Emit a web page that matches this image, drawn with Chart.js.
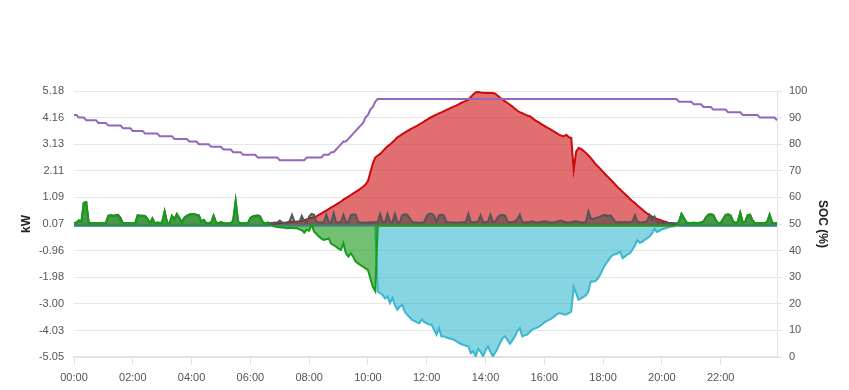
<!DOCTYPE html>
<html>
<head>
<meta charset="utf-8">
<script src="https://cdn.jsdelivr.net/npm/chart.js@4.4.0/dist/chart.umd.min.js"></script>
<style>
    html, body { margin: 0; padding: 0; background: #fff; }
    canvas { display: block; }
</style>
</head>
<body>
<canvas id="energyChart" width="849" height="390"></canvas>
<script>
// 5-minute samples over one day (288 points), one row = one hour
const times = [];
for (let m = 0; m < 24 * 60; m += 5) {
    times.push(String(Math.floor(m / 60)).padStart(2, '0') + ':' + String(m % 60).padStart(2, '0'));
}

// left axis tick labels (kW) and right axis range (SOC %)
const kwTicks = [-5.05, -4.03, -3.00, -1.98, -0.96, 0.07, 1.09, 2.11, 3.13, 4.16, 5.18];

// PV production (kW)
const pvKw = [
    0,0,0,0,0,0,0,0,0,0,0,0,
    0,0,0,0,0,0,0,0,0,0,0,0,
    0,0,0,0,0,0,0,0,0,0,0,0,
    0,0,0,0,0,0,0,0,0,0,0,0,
    0,0,0,0,0,0,0,0,0,0,0,0,
    0,0,0,0,0,0,0,0,0,0,0,0,
    0,0,0,0,0,0,0,0,0.02,0.04,0.06,0.08,
    0.09,0.10,0.11,0.12,0.13,0.14,0.15,0.16,0.17,0.19,0.21,0.24,
    0.27,0.30,0.33,0.36,0.42,0.47,0.53,0.58,0.64,0.70,0.75,0.81,
    0.87,0.93,1.00,1.06,1.12,1.18,1.24,1.30,1.36,1.43,1.50,1.58,
    1.72,2.05,2.40,2.62,2.70,2.76,2.86,2.96,3.05,3.12,3.21,3.30,
    3.40,3.45,3.52,3.58,3.64,3.69,3.74,3.79,3.84,3.90,3.95,4.01,
    4.07,4.13,4.18,4.23,4.27,4.32,4.36,4.40,4.45,4.49,4.54,4.58,
    4.62,4.67,4.72,4.76,4.80,4.85,4.95,5.05,5.13,5.14,5.12,5.11,
    5.10,5.11,5.10,5.10,5.08,5.00,4.92,4.85,4.78,4.72,4.65,4.58,
    4.50,4.42,4.37,4.33,4.28,4.24,4.21,4.15,4.07,4.01,3.96,3.90,
    3.84,3.78,3.73,3.68,3.62,3.56,3.50,3.46,3.44,3.50,3.40,3.38,
    2.15,2.85,2.99,2.95,2.88,2.80,2.70,2.60,2.48,2.36,2.27,2.17,
    2.07,1.97,1.87,1.78,1.68,1.58,1.48,1.39,1.30,1.21,1.12,1.03,
    0.94,0.87,0.78,0.70,0.62,0.54,0.47,0.41,0.35,0.30,0.26,0.23,
    0.19,0.16,0.13,0.10,0.08,0.05,0.03,0.01,0,0,0,0,
    0,0,0,0,0,0,0,0,0,0,0,0,
    0,0,0,0,0,0,0,0,0,0,0,0,
    0,0,0,0,0,0,0,0,0,0,0,0
];

// house load (kW)
const loadKw = [
    0.09,0.12,0.20,0.15,0.88,0.90,0.12,0.09,0.10,0.09,0.09,0.09,
    0.09,0.10,0.38,0.40,0.38,0.40,0.42,0.30,0.09,0.09,0.09,0.09,
    0.09,0.10,0.40,0.38,0.38,0.37,0.25,0.09,0.28,0.09,0.12,0.10,
    0.12,0.55,0.12,0.09,0.38,0.25,0.45,0.30,0.12,0.30,0.38,0.42,
    0.45,0.45,0.42,0.40,0.15,0.22,0.10,0.10,0.12,0.38,0.12,0.09,
    0.14,0.10,0.08,0.09,0.09,0.20,0.95,0.15,0.09,0.09,0.09,0.10,
    0.30,0.36,0.38,0.40,0.36,0.15,0.08,0.12,0.10,0.10,0.12,0.11,
    0.20,0.12,0.10,0.11,0.18,0.42,0.15,0.12,0.14,0.38,0.16,0.12,
    0.35,0.45,0.42,0.15,0.12,0.13,0.12,0.42,0.14,0.12,0.48,0.13,
    0.12,0.15,0.42,0.14,0.12,0.40,0.44,0.42,0.15,0.12,0.11,0.12,
    0.12,0.13,0.12,0.14,0.12,0.45,0.14,0.13,0.45,0.14,0.13,0.45,
    0.14,0.13,0.40,0.44,0.42,0.30,0.14,0.12,0.12,0.11,0.12,0.14,
    0.38,0.46,0.46,0.38,0.14,0.40,0.42,0.40,0.15,0.13,0.12,0.12,
    0.11,0.12,0.12,0.13,0.14,0.45,0.14,0.13,0.14,0.16,0.40,0.13,
    0.14,0.15,0.42,0.14,0.16,0.32,0.40,0.42,0.38,0.15,0.13,0.14,
    0.16,0.25,0.42,0.14,0.12,0.13,0.14,0.18,0.13,0.12,0.13,0.15,
    0.17,0.16,0.13,0.12,0.13,0.15,0.18,0.20,0.15,0.13,0.12,0.13,
    0.16,0.18,0.14,0.13,0.12,0.14,0.55,0.28,0.25,0.30,0.32,0.36,
    0.40,0.42,0.36,0.40,0.28,0.14,0.13,0.14,0.13,0.14,0.13,0.14,
    0.16,0.40,0.15,0.13,0.12,0.14,0.18,0.40,0.20,0.35,0.15,0.12,
    0.12,0.11,0.10,0.10,0.10,0.09,0.09,0.15,0.45,0.30,0.12,0.10,
    0.10,0.11,0.10,0.10,0.12,0.16,0.32,0.42,0.44,0.42,0.22,0.10,
    0.10,0.26,0.42,0.44,0.40,0.18,0.10,0.15,0.50,0.12,0.15,0.40,
    0.42,0.20,0.10,0.09,0.10,0.09,0.10,0.15,0.42,0.12,0.09,0.10
];

// battery power (kW, + discharge / - charge)
const batteryKw = [
    0.09,0.12,0.20,0.15,0.88,0.90,0.12,0.09,0.10,0.09,0.09,0.09,
    0.09,0.10,0.38,0.40,0.38,0.38,0.38,0.20,0.09,0.09,0.09,0.09,
    0.09,0.10,0.40,0.38,0.38,0.37,0.25,0.09,0.28,0.09,0.12,0.10,
    0.12,0.55,0.12,0.09,0.38,0.25,0.45,0.30,0.12,0.30,0.38,0.42,
    0.45,0.45,0.40,0.38,0.15,0.22,0.10,0.10,0.12,0.38,0.12,0.09,
    0.14,0.10,0.08,0.09,0.09,0.20,0.95,0.15,0.09,0.09,0.09,0.10,
    0.30,0.36,0.36,0.36,0.34,0.15,0.08,0.12,0.05,0.00,-0.03,-0.05,
    -0.06,-0.07,-0.08,-0.10,-0.08,-0.09,-0.10,-0.09,-0.14,-0.17,-0.27,-0.15,
    -0.20,0.05,-0.23,-0.32,-0.42,-0.50,-0.55,-0.52,-0.49,-0.70,-0.75,-0.81,
    -0.88,-0.93,-0.67,-1.06,-1.19,-1.06,-1.20,-1.38,-1.45,-1.52,-1.57,-1.64,
    -1.70,-2.03,-2.35,-2.52,0,0,0,0,0,0,0,0,
    0,0,0,0,0,0,0,0,0,0,0,0,
    0,0,0,0,0,0,0,0,0,0,0,0,
    0,0,0,0,0,0,0,0,0,0,0,0,
    0,0,0,0,0,0,0,0,0,0,0,0,
    0,0,0,0,0,0,0,0,0,0,0,0,
    0,0,0,0,0,0,0,0,0,0,0,0,
    0,0,0,0,0,0,0,0,0,0,0,0,
    0,0,0,0,0,0,0,0,0,0,0,0,
    0,0,0,0,0,0,0,0,0,0,0,0,
    0,0,0,0,0,0,0.02,0.15,0.45,0.30,0.12,0.10,
    0.10,0.11,0.10,0.10,0.12,0.16,0.32,0.42,0.44,0.40,0.20,0.10,
    0.10,0.26,0.40,0.44,0.40,0.18,0.10,0.15,0.50,0.12,0.15,0.40,
    0.42,0.20,0.10,0.09,0.10,0.09,0.10,0.15,0.42,0.12,0.09,0.10
];

// grid power (kW, - export)
const gridKw = [
    0,0,0,0,0,0,0,0,0,0,0,0,
    0,0,0,0,0,0,0,0,0,0,0,0,
    0,0,0,0,0,0,0,0,0,0,0,0,
    0,0,0,0,0,0,0,0,0,0,0,0,
    0,0,0,0,0,0,0,0,0,0,0,0,
    0,0,0,0,0,0,0,0,0,0,0,0,
    0,0,0,0,0,0,0,0,0,0,0,0,
    0,0,0,0,0,0,0,0,0,0,0,0,
    0,0,0,0,0,0,0,0,0,0,0,0,
    0,0,0,0,0,0,0,0,0,0,0,0,
    0,0,0,0,-2.53,-2.60,-2.66,-2.80,-2.72,-2.98,-2.78,-3.05,
    -3.23,-3.12,-3.04,-3.30,-3.42,-3.52,-3.62,-3.66,-3.72,-3.75,-3.60,-3.70,
    -3.76,-3.80,-3.81,-4.00,-4.19,-3.94,-4.26,-4.25,-4.30,-4.33,-4.36,-4.38,
    -4.44,-4.50,-4.55,-4.58,-4.62,-4.64,-4.90,-4.83,-5.02,-4.74,-4.85,-5.02,
    -4.80,-4.64,-4.85,-5.02,-4.88,-4.71,-4.50,-4.32,-4.26,-4.40,-4.54,-4.40,
    -4.26,-4.05,-3.94,-4.26,-4.22,-4.19,-4.10,-4.00,-3.96,-3.92,-3.87,-3.80,
    -3.72,-3.66,-3.62,-3.57,-3.50,-3.42,-3.36,-3.38,-3.42,-3.42,-3.36,-3.30,
    -2.35,-2.60,-2.85,-2.80,-2.74,-2.68,-2.53,-2.15,-2.15,-2.12,-2.02,-1.85,
    -1.65,-1.48,-1.35,-1.22,-1.12,-1.10,-1.06,-1.00,-1.25,-1.18,-1.10,-1.06,
    -0.92,-0.76,-0.55,-0.66,-0.62,-0.55,-0.48,-0.42,-0.30,-0.12,-0.24,-0.20,
    -0.14,-0.12,-0.08,-0.05,-0.03,-0.02,0,0,0,0,0,0,
    0,0,0,0,0,0,0,0,0,0,0,0,
    0,0,0,0,0,0,0,0,0,0,0,0,
    0,0,0,0,0,0,0,0,0,0,0,0
];

// battery state of charge (%)
const socPct = [
    91,91,90,90,90,89,89,89,89,89,88,88,
    88,88,87,87,87,87,87,87,86,86,86,86,
    85,85,85,85,85,84,84,84,84,84,84,83,
    83,83,83,83,83,82,82,82,82,82,82,81,
    81,81,81,80,80,80,80,80,79,79,79,79,
    79,78,78,78,78,77,77,77,77,76,76,76,
    76,76,76,75,75,75,75,75,75,75,75,75,
    74,74,74,74,74,74,74,74,74,74,74,75,
    75,75,75,75,75,75,76,76,76,77,77,78,
    79,80,81,81,82,83,84,85,86,87,88,90,
    91,93,94,96,97,97,97,97,97,97,97,97,
    97,97,97,97,97,97,97,97,97,97,97,97,
    97,97,97,97,97,97,97,97,97,97,97,97,
    97,97,97,97,97,97,97,97,97,97,97,97,
    97,97,97,97,97,97,97,97,97,97,97,97,
    97,97,97,97,97,97,97,97,97,97,97,97,
    97,97,97,97,97,97,97,97,97,97,97,97,
    97,97,97,97,97,97,97,97,97,97,97,97,
    97,97,97,97,97,97,97,97,97,97,97,97,
    97,97,97,97,97,97,97,97,97,97,97,97,
    97,97,97,97,97,97,97,96,96,96,96,96,
    96,95,95,95,95,94,94,94,94,93,93,93,
    93,93,93,92,92,92,92,92,92,91,91,91,
    91,91,91,91,90,90,90,90,90,90,90,89
];

Chart.defaults.font.family = "'Liberation Sans', Arial, sans-serif";
Chart.defaults.font.size = 11;
Chart.defaults.color = '#555';

const ctx = document.getElementById('energyChart').getContext('2d');
const energyChart = new Chart(ctx, {
    type: 'line',
    data: {
        labels: times,
        datasets: [
            { label: 'SOC', data: socPct, yAxisID: 'soc', borderColor: '#9467bd', fill: false },
            { label: 'Battery', data: batteryKw, yAxisID: 'y', borderColor: '#179c17', backgroundColor: 'rgba(20,150,20,0.6)', fill: 'origin' },
            { label: 'Load', data: loadKw, yAxisID: 'y', borderColor: '#555555', backgroundColor: 'rgba(70,70,70,0.55)', fill: 'origin' },
            { label: 'Grid', data: gridKw, yAxisID: 'y', borderColor: '#3bb7cf', backgroundColor: 'rgba(16,170,200,0.5)', fill: 'origin' },
            { label: 'PV', data: pvKw, yAxisID: 'y', borderColor: '#cc0a0a', backgroundColor: 'rgba(205,15,20,0.6)', fill: 'origin' }
        ]
    },
    options: {
        responsive: false,
        animation: false,
        layout: { padding: { top: 91, left: 0, right: 0, bottom: 0 } },
        elements: {
            point: { radius: 0 },
            line: { borderWidth: 2, tension: 0 }
        },
        plugins: {
            legend: { display: false },
            tooltip: { enabled: false }
        },
        scales: {
            x: {
                type: 'category',
                grid: { drawOnChartArea: false, tickLength: 8, color: '#e2e2e2' },
                border: { color: '#e2e2e2', width: 2 },
                ticks: { autoSkip: false, maxRotation: 0, padding: 6 },
                afterBuildTicks: s => { s.ticks = s.ticks.filter(t => t.value % 24 === 0); },
                afterFit: s => { s.height = 33; s.paddingLeft = 0; s.paddingRight = 0; }
            },
            y: {
                position: 'left',
                min: -5.05,
                max: 5.18,
                afterBuildTicks: s => { s.ticks = kwTicks.map(v => ({ value: v })); },
                ticks: { padding: 10, callback: v => v.toFixed(2) },
                grid: { drawTicks: false, color: '#e6e6e6' },
                border: { display: false },
                title: { display: true, text: 'kW', color: '#222', font: { size: 12, weight: 'bold' }, padding: { top: 19, bottom: 0 } },
                afterFit: s => { s.width = 74; s.paddingTop = 0; s.paddingBottom = 0; }
            },
            soc: {
                position: 'right',
                min: 0,
                max: 100,
                ticks: { stepSize: 10, padding: 7 },
                grid: { drawOnChartArea: false, tickLength: 5, color: '#e2e2e2' },
                border: { color: '#e2e2e2' },
                title: { display: true, text: 'SOC (%)', color: '#222', font: { size: 12, weight: 'bold' }, padding: { top: 19, bottom: 0 } },
                afterFit: s => { s.width = 72; s.paddingTop = 0; s.paddingBottom = 0; }
            }
        }
    }
});
</script>
</body>
</html>
